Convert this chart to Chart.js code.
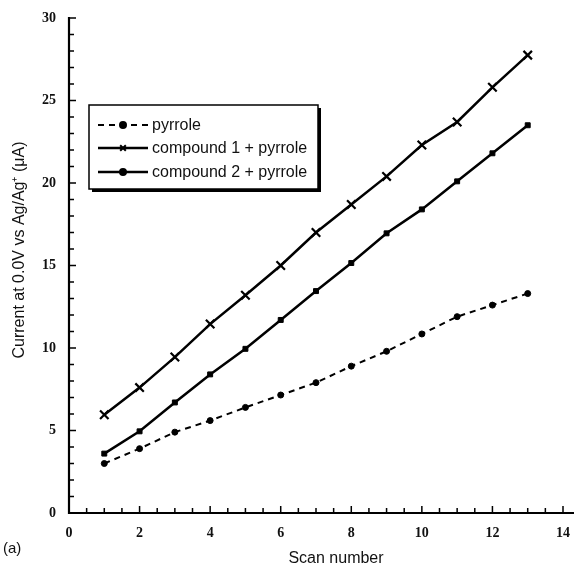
<!DOCTYPE html>
<html>
<head>
<meta charset="utf-8">
<script src="https://cdn.jsdelivr.net/npm/chart.js@4.4.0/dist/chart.umd.min.js"></script>
<style>
  html, body { margin: 0; padding: 0; background: #fff; }
  #wrap { width: 575px; height: 567px; position: relative; }
</style>
</head>
<body>
<div id="wrap"><canvas id="scan-chart"></canvas></div>
<script>
// Values
const scanNumbers = [1, 2, 3, 4, 5, 6, 7, 8, 9, 10, 11, 12, 13];
const pyrrole = [3.0, 3.9, 4.9, 5.6, 6.4, 7.15, 7.9, 8.9, 9.8, 10.85, 11.9, 12.6, 13.3];
const compound1 = [5.95, 7.6, 9.45, 11.45, 13.2, 15.0, 17.0, 18.7, 20.4, 22.3, 23.7, 25.8, 27.75];
const compound2 = [3.6, 4.95, 6.7, 8.4, 9.95, 11.7, 13.45, 15.15, 16.95, 18.4, 20.1, 21.8, 23.5];
const xTicks = [0, 2, 4, 6, 8, 10, 12, 14];
const yTicks = [0, 5, 10, 15, 20, 25, 30];
const seriesLabels = ["pyrrole", "compound 1 + pyrrole", "compound 2 + pyrrole"];
const xTitle = "Scan number";
const yTitle = "Current at 0.0V vs Ag/Ag\u207A (\u03BCA)";

function toPoints(values) {
    return scanNumbers.map((x, i) => ({ x: x, y: values[i] }));
}

// inward tick marks, axis lines, titles, legend box and panel label
const framePlugin = {
    id: 'frame',
    afterDraw(chart) {
        const ctx = chart.ctx;
        const area = chart.chartArea;
        const xs = chart.scales.x;
        const ys = chart.scales.y;
        ctx.save();
        ctx.strokeStyle = '#000';
        ctx.lineWidth = 2.2;
        ctx.beginPath();
        ctx.moveTo(area.left, area.top - 1);
        ctx.lineTo(area.left, area.bottom);
        ctx.lineTo(chart.width - 1, area.bottom);
        ctx.stroke();

        ctx.lineWidth = 1.5;
        ctx.beginPath();
        for (let v = 0; v <= 30; v += 1) {
            const y = ys.getPixelForValue(v);
            const len = v % 5 === 0 ? 7 : 5;
            ctx.moveTo(area.left, y);
            ctx.lineTo(area.left + len, y);
        }
        for (let v = 0; v <= 14; v += 0.5) {
            const x = xs.getPixelForValue(v);
            const len = v % 2 === 0 ? 7 : 5;
            ctx.moveTo(x, area.bottom);
            ctx.lineTo(x, area.bottom - len);
        }
        ctx.stroke();

        // axis titles
        ctx.fillStyle = '#111';
        ctx.font = '16px "Liberation Sans", Arial, sans-serif';
        ctx.textAlign = 'center';
        ctx.textBaseline = 'middle';
        ctx.fillText(xTitle, 336, 559);
        ctx.save();
        ctx.translate(20, 250);
        ctx.rotate(-Math.PI / 2);
        ctx.fillText(yTitle, 0, 0);
        ctx.restore();

        // legend
        const box = { left: 89, top: 105, right: 318, bottom: 189 };
        ctx.fillStyle = '#fff';
        ctx.fillRect(box.left, box.top, box.right - box.left, box.bottom - box.top);
        ctx.strokeStyle = '#000';
        ctx.lineWidth = 1.5;
        ctx.strokeRect(box.left, box.top, box.right - box.left, box.bottom - box.top);
        ctx.lineWidth = 3;
        ctx.beginPath();
        ctx.moveTo(box.left + 3, box.bottom + 1.5);
        ctx.lineTo(box.right + 1.5, box.bottom + 1.5);
        ctx.lineTo(box.right + 1.5, box.top + 3);
        ctx.stroke();

        const rows = [125, 148, 172];
        ctx.font = '16px "Liberation Sans", Arial, sans-serif';
        ctx.textAlign = 'left';
        ctx.textBaseline = 'middle';
        chart.data.datasets.forEach((ds, i) => {
            const y = rows[i];
            ctx.strokeStyle = '#000';
            ctx.lineWidth = ds.borderWidth;
            ctx.setLineDash(ds.borderDash || []);
            ctx.beginPath();
            ctx.moveTo(98, y);
            ctx.lineTo(148, y);
            ctx.stroke();
            ctx.setLineDash([]);
            ctx.fillStyle = '#000';
            ctx.lineWidth = 2;
            Chart.helpers.drawPoint(ctx, {
                pointStyle: i === 1 ? 'crossRot' : 'circle',
                radius: i === 1 ? 4 : 3,
                borderWidth: 2
            }, 123, y);
            ctx.fillStyle = '#111';
            ctx.fillText(ds.label, 152, y + 1);
        });

        ctx.font = '15px "Liberation Sans", Arial, sans-serif';
        ctx.fillText('(a)', 3, 549);
        ctx.restore();
    }
};

const ctx = document.getElementById('scan-chart').getContext('2d');
new Chart(ctx, {
    type: 'line',
    data: {
        datasets: [{
            label: seriesLabels[0],
            data: toPoints(pyrrole),
            borderColor: '#000',
            backgroundColor: '#000',
            borderWidth: 2,
            borderDash: [6, 5],
            pointStyle: 'circle',
            pointRadius: 3,
            pointBorderWidth: 1,
            tension: 0
        }, {
            label: seriesLabels[1],
            data: toPoints(compound1),
            borderColor: '#000',
            backgroundColor: '#000',
            borderWidth: 2.5,
            pointStyle: 'crossRot',
            pointRadius: 6,
            pointBorderWidth: 2.2,
            tension: 0
        }, {
            label: seriesLabels[2],
            data: toPoints(compound2),
            borderColor: '#000',
            backgroundColor: '#000',
            borderWidth: 2.5,
            pointStyle: 'rect',
            pointRadius: 3.5,
            pointBorderWidth: 1,
            tension: 0
        }]
    },
    options: {
        responsive: true,
        maintainAspectRatio: false,
        animation: false,
        layout: { padding: { top: 18, right: 12, left: 0, bottom: 0 } },
        plugins: { legend: { display: false }, tooltip: { enabled: false } },
        scales: {
            x: {
                type: 'linear',
                min: 0,
                max: 14,
                afterFit(scale) {
                    scale.height = 54;
                    scale.paddingLeft = 0;
                    scale.paddingRight = 0;
                },
                afterBuildTicks(scale) { scale.ticks = xTicks.map(v => ({ value: v })); },
                grid: { display: false, drawTicks: false },
                border: { display: false },
                ticks: {
                    padding: 12,
                    color: '#111',
                    font: { family: '"Liberation Serif", serif', size: 14, weight: 'bold' }
                }
            },
            y: {
                min: 0,
                max: 30,
                afterFit(scale) {
                    scale.width = 69;
                    scale.paddingTop = 0;
                    scale.paddingBottom = 0;
                },
                afterBuildTicks(scale) { scale.ticks = yTicks.map(v => ({ value: v })); },
                grid: { display: false, drawTicks: false },
                border: { display: false },
                ticks: {
                    padding: 13,
                    color: '#111',
                    font: { family: '"Liberation Serif", serif', size: 14, weight: 'bold' }
                }
            }
        }
    },
    plugins: [framePlugin]
});
</script>
</body>
</html>
